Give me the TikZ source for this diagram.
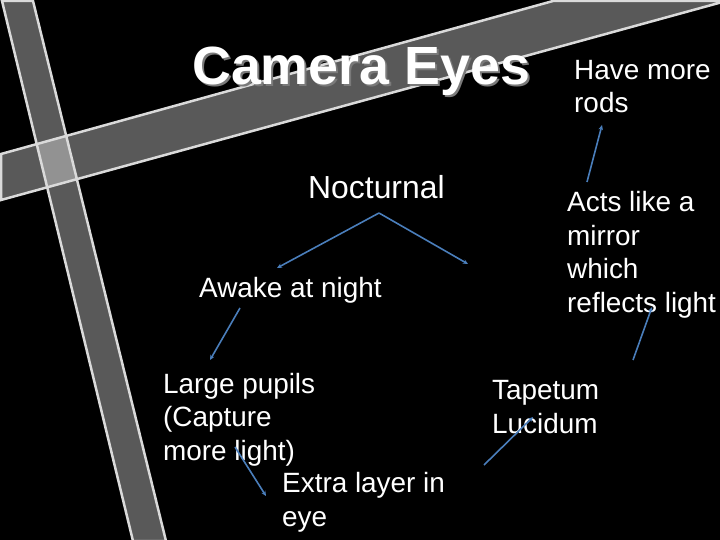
\documentclass[tikz,border=0pt]{standalone}
\usepackage{fontspec}
\setmainfont{Liberation Sans}
\usetikzlibrary{arrows.meta}
\definecolor{arrowblue}{HTML}{4A7EBB}
\definecolor{bandline}{HTML}{DADADA}
\definecolor{shadowgray}{HTML}{7A7A7A}
\newcommand{\shadowtext}[1]{\rlap{\hspace{2bp}\raisebox{-2bp}{\textcolor{shadowgray}{#1}}}#1}
\tikzset{
	bandfill/.style={fill=white, fill opacity=0.35},
	bandedge/.style={draw=bandline, line width=2.5bp, line join=miter},
	txt/.style={text=white, anchor=base west, inner sep=0pt, align=left, font=\fontsize{28}{33.5}\selectfont},
	link/.style={draw=arrowblue, line width=1.6bp, -{Stealth[length=5bp,width=4.5bp]}}
}
\begin{document}
\begin{tikzpicture}[x=1bp, y=-1bp]
	\fill[black] (0,0) rectangle (720,540); %háttér
	\useasboundingbox (0,0) rectangle (720,540);
	\begin{scope}
	\clip (0,0) rectangle (720,540);
	\fill[bandfill] (2,1) -- (33,1) -- (166,541) -- (133,541) -- cycle; %álló sáv
	\fill[bandfill] (1,154) -- (553,1) -- (726,1) -- (1,200) -- cycle; %ferde sáv
	\draw[bandedge] (2,1) -- (33,1) -- (166,541) -- (133,541) -- cycle;
	\draw[bandedge] (1,154) -- (553,1) -- (726,1) -- (1,200) -- cycle;
	\end{scope}
	% cím árnyékkal
	\node[txt, font=\fontsize{54}{60}\selectfont\bfseries] (title) at (192,85) {\shadowtext{Camera Eyes}};
	% szövegek (többsoros csomópontnál az utolsó sor alapvonala számít)
	\node[txt, font=\fontsize{32}{38}\selectfont] (noc) at (308,199) {Nocturnal};
	\node[txt] (awake) at (199,297) {Awake at night};
	\node[txt] (pupils) at (163,460) {Large pupils\\(Capture\\more light)};
	\node[txt] (extra) at (282,526) {Extra layer in\\eye};
	\node[txt] (rods) at (574,113) {Have more\\rods};
	\node[txt] (mirror) at (567,312) {Acts like a\\mirror\\which\\reflects light};
	\node[txt] (tapetum) at (492,433) {Tapetum\\Lucidum};
	% nyilak végpontjai
	\coordinate (noc-tail) at (379,213);
	\coordinate (awake-head) at (277,268);
	\coordinate (right-head) at (468,264);
	\coordinate (awake-tail) at (240,308);
	\coordinate (pupils-head) at (210,360);
	\coordinate (light-tail) at (235,447);
	\coordinate (extra-head) at (266,496);
	\coordinate (low-tail) at (484,465);
	\coordinate (tapetum-head) at (533,417);
	\coordinate (tapetum-tail) at (633,360);
	\coordinate (mirror-head) at (652,307);
	\coordinate (mirror-tail) at (587,182);
	\coordinate (rods-head) at (602,125);
	% nyilak
	\draw[link] (noc-tail) -- (awake-head);
	\draw[link] (noc-tail) -- (right-head);
	\draw[link] (awake-tail) -- (pupils-head);
	\draw[link] (light-tail) -- (extra-head);
	\draw[link] (low-tail) -- (tapetum-head);
	\draw[link] (tapetum-tail) -- (mirror-head);
	\draw[link] (mirror-tail) -- (rods-head);
\end{tikzpicture}
\end{document}
